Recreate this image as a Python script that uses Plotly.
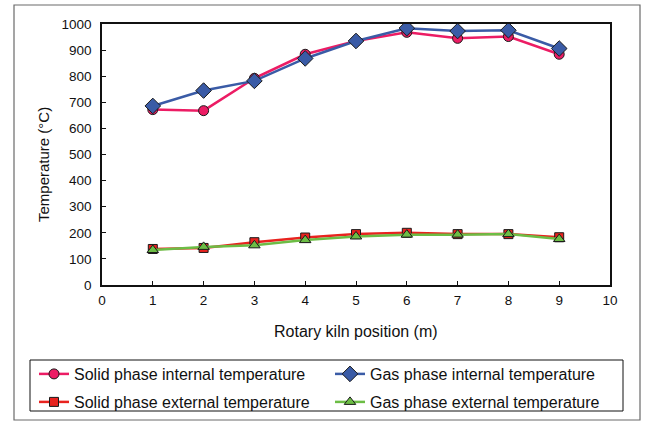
import plotly.graph_objects as go

positions = [1, 2, 3, 4, 5, 6, 7, 8, 9]
solid_internal = [672, 668, 792, 884, 935, 968, 945, 952, 884]
gas_internal = [686, 745, 782, 868, 935, 984, 973, 976, 906]
solid_external = [138, 142, 164, 182, 195, 200, 195, 195, 183]
gas_external = [134, 146, 152, 172, 186, 193, 193, 195, 176]

x_ticks = list(range(0, 11))
y_ticks = list(range(0, 1001, 100))

FONT = "Liberation Sans, Arial, sans-serif"

# pixel -> paper helpers (plot area: x 102..610, y 24..285)
PL, PR, PT, PB = 102, 610, 24, 285
def px(x):
    return (x - PL) / (PR - PL)
def py(y):
    return (PB - y) / (PB - PT)

fig = go.Figure()
fig.add_trace(go.Scatter(x=positions, y=solid_internal, mode="lines+markers",
                         name="Solid phase internal temperature",
                         line=dict(color="#EC1C64", width=2.5),
                         marker=dict(symbol="circle", size=10, color="#EC1C64",
                                     line=dict(color="#1a1a1a", width=1)),
                         legend="legend"))
fig.add_trace(go.Scatter(x=positions, y=gas_internal, mode="lines+markers",
                         name="Gas phase internal temperature",
                         line=dict(color="#3A5BA6", width=2.5),
                         marker=dict(symbol="diamond", size=12, color="#3A5BA6",
                                     line=dict(color="#1a1a1a", width=1)),
                         legend="legend"))
fig.add_trace(go.Scatter(x=positions, y=solid_external, mode="lines+markers",
                         name="Solid phase external temperature",
                         line=dict(color="#E8231F", width=2.5),
                         marker=dict(symbol="square", size=9, color="#E8231F",
                                     line=dict(color="#1a1a1a", width=1)),
                         legend="legend2"))
fig.add_trace(go.Scatter(x=positions, y=gas_external, mode="lines+markers",
                         name="Gas phase external temperature",
                         line=dict(color="#6CBD45", width=2.5),
                         marker=dict(symbol="triangle-up", size=10, color="#6CBD45",
                                     line=dict(color="#1a1a1a", width=1)),
                         legend="legend2"))

legend_common = dict(orientation="h", xanchor="left", yanchor="middle",
                     font=dict(family=FONT, size=16, color="#111"),
                     bgcolor="rgba(0,0,0,0)", borderwidth=0,
                     entrywidth=251, entrywidthmode="pixels",
                     itemclick=False)

fig.update_layout(
    width=649, height=421,
    margin=dict(l=PL, r=649 - PR, t=PT, b=421 - PB, autoexpand=False),
    paper_bgcolor="white", plot_bgcolor="white",
    font=dict(family=FONT, size=14, color="#111"),
    showlegend=True,
    legend=dict(x=px(34), y=py(374), **legend_common),
    legend2=dict(x=px(34), y=py(402), **legend_common),
    xaxis=dict(range=[0, 10], tickvals=x_ticks, ticks="inside", ticklen=4,
               tickcolor="#111", showline=True, linecolor="#111", linewidth=1.5,
               mirror=True, showgrid=False, zeroline=False,
               ticklabelstandoff=2,
               tickfont=dict(family=FONT, size=13.5, color="#111")),
    yaxis=dict(range=[0, 1000], tickvals=y_ticks, ticks="inside", ticklen=4,
               tickcolor="#111", showline=True, linecolor="#111", linewidth=1.5,
               mirror=True, showgrid=False, zeroline=False,
               ticklabelstandoff=6,
               tickfont=dict(family=FONT, size=13.5, color="#111")),
    annotations=[
        dict(text="Rotary kiln position (m)", xref="paper", yref="paper",
             x=px(356), y=py(331), showarrow=False, xanchor="center", yanchor="middle",
             font=dict(family=FONT, size=16, color="#111")),
        dict(text="Temperature (°C)", xref="paper", yref="paper",
             x=px(43), y=py(165), showarrow=False, textangle=-90,
             xanchor="center", yanchor="middle",
             font=dict(family=FONT, size=15, color="#111")),
    ],
    shapes=[
        dict(type="rect", xref="paper", yref="paper",
             x0=px(14), x1=px(640), y0=py(420), y1=py(5),
             line=dict(color="#6a6a6a", width=1.2), layer="below"),
        dict(type="rect", xref="paper", yref="paper",
             x0=px(30), x1=px(623), y0=py(411), y1=py(360),
             line=dict(color="#111", width=1), layer="below"),
    ],
)

fig.write_html("out.html")
